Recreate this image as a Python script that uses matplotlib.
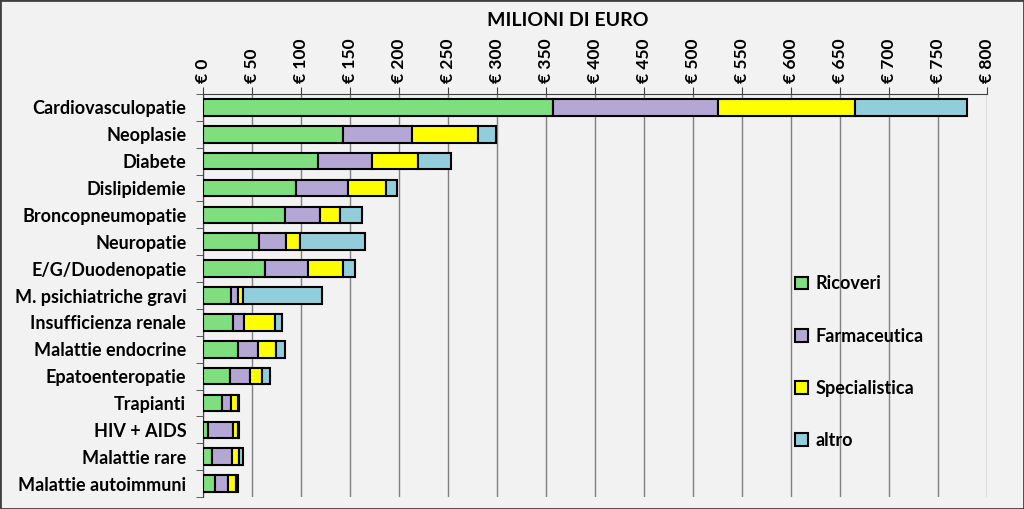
import matplotlib.pyplot as plt
import numpy as np

categories = ['Cardiovasculopatie', 'Neoplasie', 'Diabete', 'Dislipidemie',
              'Broncopneumopatie', 'Neuropatie', 'E/G/Duodenopatie',
              'M. psichiatriche gravi', 'Insufficienza renale',
              'Malattie endocrine', 'Epatoenteropatie', 'Trapianti',
              'HIV + AIDS', 'Malattie rare', 'Malattie autoimmuni']
ricoveri = [357, 143, 117, 95, 84, 57, 63, 29, 31, 36, 28, 19, 5, 9, 12]
farmaceutica = [168, 70, 55, 53, 35, 28, 44, 7, 11, 20, 20, 10, 26, 21, 14]
specialistica = [140, 68, 47, 39, 21, 14, 36, 5, 31, 18, 12, 7, 5, 7, 8]
altro = [115, 18, 34, 11, 22, 66, 12, 80, 8, 10, 8, 1, 1, 4, 2]
series_names = ['Ricoveri', 'Farmaceutica', 'Specialistica', 'altro']
colors = ['#7fdf7f', '#b4a7d6', '#ffff00', '#92cddc']
ticks = list(range(0, 801, 50))

plt.rcParams['font.family'] = ['Lato', 'DejaVu Sans']
plt.rcParams['font.weight'] = 'bold'

bg = '#f2f2f2'
fig = plt.figure(figsize=(10.24, 5.09), dpi=100, facecolor=bg)
ax = fig.add_axes([203 / 1024, 1 - 497 / 509, 784 / 1024, 403 / 509])
ax.set_facecolor(bg)

y = np.arange(len(categories))
left = np.zeros(len(categories))
for vals, name, col in zip([ricoveri, farmaceutica, specialistica, altro], series_names, colors):
    ax.barh(y, vals, left=left, height=0.62, color=col, edgecolor='black',
            linewidth=1.5, label=name, zorder=3)
    left += np.array(vals)

ax.set_ylim(len(categories) - 0.5, -0.5)
ax.set_xlim(0, 800)
ax.set_xticks(ticks)
ax.set_xticklabels(['€ %d' % t for t in ticks], rotation=90, fontsize=12.5, fontweight='bold')
ax.xaxis.tick_top()
ax.set_yticks(y)
ax.set_yticklabels(categories, fontsize=13, fontweight='bold')
ax.set_yticks(np.arange(-0.5, len(categories), 1), minor=True)
ax.tick_params(axis='y', which='major', length=0, pad=12)
ax.tick_params(axis='y', which='minor', length=5, color='#404040')
ax.tick_params(axis='x', length=5, color='#404040', pad=3)
ax.grid(axis='x', color='#808080', linewidth=1, zorder=0)
for s in ['right', 'bottom']:
    ax.spines[s].set_visible(False)
ax.spines['top'].set_color('#404040')
ax.spines['left'].set_color('#404040')

fig.text(568 / 1024, 1 - 21 / 509, 'MILIONI DI EURO', ha='center', va='center',
         fontsize=14, fontweight='bold')

ax.legend(loc='upper left', bbox_to_anchor=(0.735, 0.59), frameon=False,
          fontsize=13, handlelength=0.7, handleheight=0.7, labelspacing=1.95,
          handletextpad=0.4)

fig.patches.append(plt.Rectangle((0, 0), 1, 1, transform=fig.transFigure,
                                 fill=False, edgecolor='#404040', linewidth=2))

fig.savefig('out.png', dpi=100, facecolor=bg)
